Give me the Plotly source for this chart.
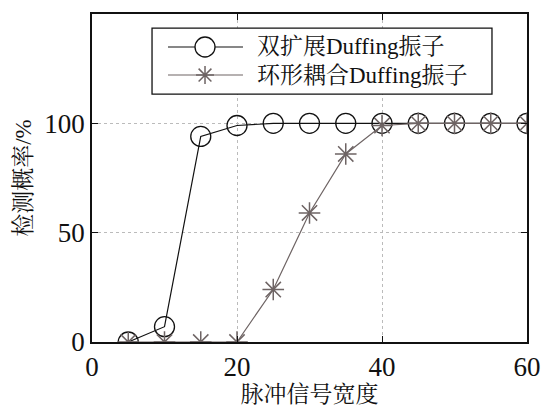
import plotly.graph_objects as go

x_vals = [5, 10, 15, 20, 25, 30, 35, 40, 45, 50, 55, 60]
dual_ext = [0, 7, 94, 99, 100, 100, 100, 100, 100, 100, 100, 100]
ring_coupled = [0, 0, 0, 0, 24, 59, 86, 99, 100, 100, 100, 100]
name1 = "双扩展Duffing振子"
name2 = "环形耦合Duffing振子"
x_ticks = [0, 20, 40, 60]
y_ticks = [0, 50, 100]

serif = "Liberation Serif, Noto Serif CJK SC, Noto Sans CJK SC, serif"
c1 = "#111111"
c2 = "#6e6464"

fig = go.Figure()
fig.add_trace(go.Scatter(
    x=x_vals, y=dual_ext, name=name1, mode="lines+markers",
    line=dict(color=c1, width=1.2),
    marker=dict(symbol="circle-open", size=20, color=c1, line=dict(width=1.3)),
))
fig.add_trace(go.Scatter(
    x=x_vals, y=ring_coupled, name=name2, mode="lines+markers",
    line=dict(color=c2, width=1.2),
    marker=dict(symbol="asterisk-open", size=18, color=c2, line=dict(width=1.5, color=c2)),
))

axis_common = dict(
    showline=True, linecolor=c1, linewidth=1.5, mirror="ticks",
    ticks="inside", ticklen=6, tickcolor=c1,
    showgrid=True, gridcolor="#bbbbbb", griddash="dot", gridwidth=1,
    zeroline=False, automargin=False,
    tickfont=dict(family=serif, size=27, color=c1),
)
fig.update_xaxes(range=[0, 60], tickvals=x_ticks,
                 title=dict(text="脉冲信号宽度", font=dict(family=serif, size=23, color=c1), standoff=6),
                 **axis_common)
fig.update_yaxes(range=[0, 150], tickvals=y_ticks,
                 title=dict(text="检测概率/%", font=dict(family=serif, size=23, color=c1), standoff=6),
                 **axis_common)

# Custom legend (box, sample lines, sample markers, labels) in paper coordinates
box = dict(x0=0.138, x1=0.9195, y0=0.756, y1=0.957)
rows = [0.8994, 0.814]
line_x = (0.1747, 0.3471)
mark_x = 0.2598
text_x = 0.3747

fig.add_shape(type="rect", xref="paper", yref="paper", **box,
              line=dict(color=c1, width=1.3), fillcolor="white", layer="above")
ast = "M-9,0L9,0M0,-9L0,9M-6.4,-6.4L6.4,6.4M-6.4,6.4L6.4,-6.4"
for (name, col, sym), ry in zip([(name1, c1, "circle"), (name2, c2, "asterisk")], rows):
    fig.add_shape(type="line", xref="paper", yref="paper", x0=line_x[0], x1=line_x[1], y0=ry, y1=ry,
                  line=dict(color=col, width=1.2), layer="above")
    if sym == "circle":
        fig.add_shape(type="circle", xref="paper", yref="paper", xsizemode="pixel", ysizemode="pixel",
                      xanchor=mark_x, yanchor=ry, x0=-10, x1=10, y0=-10, y1=10,
                      line=dict(color=col, width=1.3), fillcolor="white", layer="above")
    else:
        fig.add_shape(type="path", xref="paper", yref="paper", xsizemode="pixel", ysizemode="pixel",
                      xanchor=mark_x, yanchor=ry, path=ast,
                      line=dict(color=col, width=1.5), layer="above")
    fig.add_annotation(x=text_x, y=ry, xref="paper", yref="paper", xanchor="left", yanchor="middle",
                       text=name, showarrow=False, font=dict(family=serif, size=23, color=c1))

fig.update_layout(
    width=542, height=407,
    margin=dict(l=92, r=15, t=14, b=65),
    plot_bgcolor="white", paper_bgcolor="white",
    showlegend=False,
)
fig.write_html("out.html", config={"displayModeBar": False},
               post_script="document.body.style.margin='0';document.body.style.overflow='hidden';")
